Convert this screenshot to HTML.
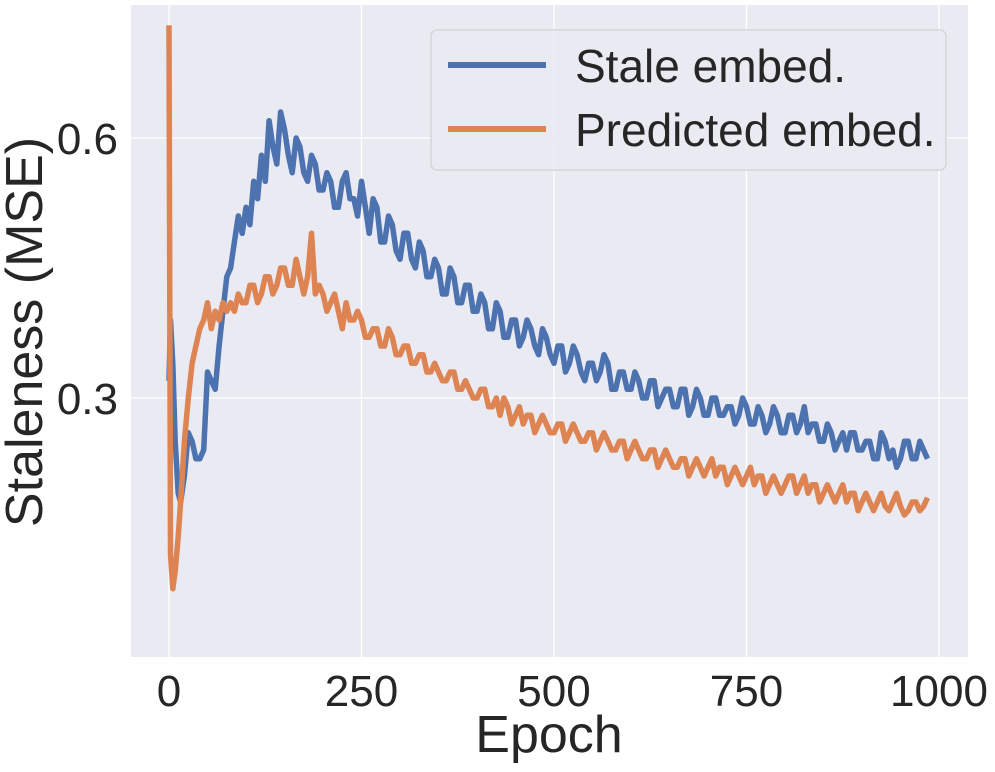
<!DOCTYPE html>
<html><head><meta charset="utf-8"><style>
html,body{margin:0;padding:0;background:#fff;}
svg text{font-family:"Liberation Sans",sans-serif;fill:#262626;}
</style></head><body>
<svg id="chart" width="995" height="767" viewBox="0 0 995 767" xmlns="http://www.w3.org/2000/svg">
<rect x="131" y="5" width="837" height="652" fill="#eaeaf2"/>
<g id="grid"></g>
<g id="series"></g>
<g id="ticks"></g>
<text x="549" y="752" font-size="52" text-anchor="middle">Epoch</text>
<text transform="translate(42,332) rotate(-90)" font-size="52" text-anchor="middle">Staleness (MSE)</text>
<g>
<rect x="431" y="30" width="515" height="140" rx="6" fill="#eaeaf2" fill-opacity="0.85" stroke="#cccccc" stroke-width="1"/>
<line x1="448" y1="65" x2="546" y2="65" stroke="#4c72b0" stroke-width="6"/>
<text x="575" y="82" font-size="46">Stale embed.</text>
<line x1="448" y1="129" x2="546" y2="129" stroke="#dd8452" stroke-width="6"/>
<text x="575" y="146" font-size="46">Predicted embed.</text>
</g>
</svg>
<script>
const earlyEpochs = [0,2,5,8,12,15,20,25,30,35,40,45,50,55,60,65,70,75,80,85,90,95];
const lateStart = 100, lateStep = 5;
const staleValues = [0.32,0.39,0.34,0.25,0.19,0.18,0.21,0.26,0.25,0.23,0.23,0.24,0.33,0.32,0.31,0.36,0.40,0.44,0.45,0.48,0.51,0.49,
0.52,0.50,0.55,0.53,0.58,0.55,0.62,0.59,0.57,0.63,0.61,0.58,0.56,0.60,0.59,0.56,0.55,0.58,0.57,0.54,
0.54,0.56,0.55,0.52,0.52,0.55,0.56,0.53,0.53,0.51,0.55,0.52,0.49,0.53,0.52,0.48,0.48,0.51,0.50,0.47,
0.46,0.49,0.49,0.46,0.45,0.48,0.47,0.44,0.44,0.46,0.45,0.42,0.42,0.45,0.44,0.41,0.41,0.43,0.43,0.40,
0.40,0.42,0.41,0.38,0.38,0.41,0.40,0.37,0.37,0.39,0.39,0.36,0.37,0.39,0.38,0.36,0.35,0.38,0.37,0.35,
0.34,0.36,0.36,0.33,0.34,0.36,0.35,0.33,0.32,0.34,0.34,0.32,0.33,0.35,0.34,0.31,0.31,0.33,0.33,0.31,
0.31,0.33,0.32,0.30,0.30,0.32,0.32,0.29,0.30,0.31,0.31,0.29,0.29,0.31,0.31,0.28,0.29,0.31,0.30,0.28,
0.28,0.30,0.30,0.28,0.28,0.29,0.29,0.27,0.28,0.30,0.29,0.27,0.27,0.29,0.28,0.26,0.27,0.29,0.28,0.26,
0.26,0.28,0.28,0.26,0.27,0.29,0.26,0.27,0.27,0.25,0.25,0.27,0.26,0.24,0.25,0.26,0.24,0.26,0.26,0.24,
0.24,0.25,0.25,0.23,0.23,0.26,0.25,0.23,0.24,0.22,0.23,0.25,0.25,0.23,0.23,0.25,0.24,0.23];
const predictedValues = [0.73,0.12,0.08,0.10,0.14,0.18,0.25,0.30,0.34,0.36,0.38,0.39,0.41,0.38,0.40,0.39,0.41,0.40,0.41,0.40,0.42,0.41,
0.41,0.43,0.43,0.41,0.42,0.44,0.44,0.42,0.43,0.45,0.45,0.43,0.43,0.46,0.44,0.42,0.44,0.49,0.42,0.43,
0.42,0.40,0.41,0.42,0.40,0.38,0.41,0.39,0.39,0.40,0.39,0.37,0.37,0.38,0.38,0.36,0.36,0.38,0.37,0.35,
0.35,0.36,0.36,0.34,0.34,0.35,0.35,0.33,0.33,0.34,0.33,0.32,0.32,0.33,0.33,0.31,0.31,0.32,0.31,0.30,
0.30,0.31,0.31,0.29,0.29,0.30,0.28,0.30,0.29,0.27,0.28,0.29,0.27,0.28,0.28,0.26,0.27,0.28,0.27,0.26,
0.26,0.27,0.27,0.25,0.26,0.27,0.26,0.25,0.25,0.26,0.26,0.24,0.25,0.26,0.25,0.24,0.24,0.25,0.25,0.23,
0.24,0.25,0.24,0.23,0.23,0.24,0.24,0.22,0.23,0.24,0.23,0.22,0.22,0.23,0.23,0.21,0.22,0.23,0.22,0.21,
0.22,0.23,0.21,0.22,0.22,0.20,0.21,0.22,0.21,0.20,0.21,0.22,0.20,0.21,0.21,0.19,0.20,0.21,0.20,0.19,
0.20,0.21,0.21,0.19,0.20,0.21,0.19,0.20,0.20,0.18,0.19,0.20,0.19,0.18,0.19,0.20,0.18,0.19,0.19,0.17,
0.18,0.19,0.18,0.17,0.18,0.19,0.175,0.17,0.18,0.19,0.175,0.165,0.17,0.18,0.18,0.17,0.175,0.185];
const xTicks = [0,250,500,750,1000];
const yTicks = [0.3,0.6];
const yTickLabels = ["0.3","0.6"];

const epochs = earlyEpochs.slice();
while (epochs.length < staleValues.length) epochs.push(lateStart + (epochs.length - earlyEpochs.length) * lateStep);

const NS = "http://www.w3.org/2000/svg";
function xScale(e){ return 169 + e * 0.77; }
function yScale(v){ return 398 - (v - 0.3) * 866.7; }
const grid = document.getElementById('grid');
const ticks = document.getElementById('ticks');
xTicks.forEach(t => {
  const l = document.createElementNS(NS,'line');
  
  
  l.setAttribute('x1', xScale(t)); l.setAttribute('x2', xScale(t));
  l.setAttribute('y1', 5); l.setAttribute('y2', 657);
  l.setAttribute('stroke', '#fff'); l.setAttribute('stroke-width', '1.3');
  grid.appendChild(l);
  const tx = document.createElementNS(NS,'text');
  
  
  tx.setAttribute('x', xScale(t)); tx.setAttribute('y', 706);
  tx.setAttribute('font-size', '44'); tx.setAttribute('text-anchor', 'middle');
  tx.textContent = String(t);
  ticks.appendChild(tx);
});
yTicks.forEach((t,i) => {
  const l = document.createElementNS(NS,'line');
  
  
  l.setAttribute('x1', 131); l.setAttribute('x2', 968);
  l.setAttribute('y1', yScale(t)); l.setAttribute('y2', yScale(t));
  l.setAttribute('stroke', '#fff'); l.setAttribute('stroke-width', '1.3');
  grid.appendChild(l);
  const tx = document.createElementNS(NS,'text');
  
  
  tx.setAttribute('x', 118); tx.setAttribute('y', yScale(t) + 16);
  tx.setAttribute('font-size', '44'); tx.setAttribute('text-anchor', 'end');
  tx.textContent = yTickLabels[i];
  ticks.appendChild(tx);
});
const series = document.getElementById('series');
function drawLine(vals, color, name){
  const p = document.createElementNS(NS,'polyline');
  
  
  p.setAttribute('points', vals.map((v,i) => xScale(epochs[i]).toFixed(1) + ',' + yScale(v).toFixed(1)).join(' '));
  p.setAttribute('fill', 'none'); p.setAttribute('stroke', color);
  p.setAttribute('stroke-width', '5.5'); p.setAttribute('stroke-linejoin', 'round');
  series.appendChild(p);
}
drawLine(staleValues, '#4c72b0', 'stale-embed-line');
drawLine(predictedValues, '#dd8452', 'predicted-embed-line');
</script>
</body></html>
